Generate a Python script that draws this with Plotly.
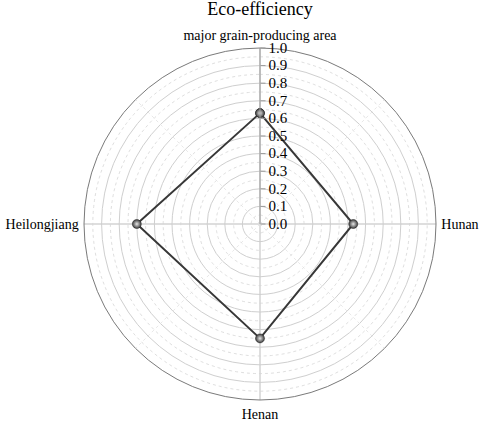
import numpy as np
import plotly.graph_objects as go

categories = ["major grain-producing area", "Hunan", "Henan", "Heilongjiang"]
efficiency = [0.63, 0.53, 0.65, 0.70]
minor_rings = [0.05, 0.15, 0.25, 0.35, 0.45, 0.55, 0.65, 0.75, 0.85, 0.95]
diagonal_spokes = [45, 135, 225, 315]
tick_vals = [0.0, 0.1, 0.2, 0.3, 0.4, 0.5, 0.6, 0.7, 0.8, 0.9, 1.0]

W, H = 484, 422

fig = go.Figure()

# dotted half-step rings
circle_theta = np.linspace(0, 360, 361)
for r in minor_rings:
    fig.add_trace(go.Scatterpolar(
        r=[r] * len(circle_theta), theta=circle_theta, thetaunit="degrees",
        mode="lines", line=dict(color="#d6d6d6", width=0.8, dash="dot"),
        hoverinfo="skip", showlegend=False))

# faint dotted diagonal spokes
for a in diagonal_spokes:
    fig.add_trace(go.Scatterpolar(
        r=[0, 1], theta=[a, a], mode="lines",
        line=dict(color="#e2e2e2", width=0.8, dash="dot"),
        hoverinfo="skip", showlegend=False))

theta_deg = [0, 90, 180, 270]
fig.add_trace(go.Scatterpolar(
    r=efficiency + efficiency[:1],
    theta=theta_deg + theta_deg[:1],
    mode="lines+markers",
    line=dict(color="#383838", width=2),
    marker=dict(size=9, color="#3a3a3a",
                gradient=dict(type="radial", color="#e8e8e8"),
                line=dict(color="#222222", width=0.5)),
    showlegend=False))

fig.update_layout(
    width=W, height=H,
    paper_bgcolor="white",
    margin=dict(l=0, r=0, t=0, b=0, autoexpand=False),
    font=dict(family="Liberation Serif", size=14, color="black"),
    title=dict(text="Eco-efficiency", x=260 / W, xanchor="center",
               y=1 - 9 / H, yanchor="middle", font=dict(size=18)),
    polar=dict(
        domain=dict(x=[84 / W, 436 / W], y=[1 - 400 / H, 1 - 48 / H]),
        bgcolor="white",
        angularaxis=dict(
            direction="clockwise", rotation=90,
            tickmode="array", tickvals=theta_deg, ticktext=categories,
            thetaunit="degrees",
            showline=True, linecolor="#7a7a7a", linewidth=1,
            showgrid=True, gridcolor="#bdbdbd", gridwidth=1,
            # invisible ticks just to push the labels off the rim a bit
            ticks="outside", ticklen=2, tickcolor="rgba(0,0,0,0)",
            tickfont=dict(size=14)),
        radialaxis=dict(
            range=[0, 1], angle=90, tickangle=90,
            tickvals=tick_vals, ticktext=[f"{v:.1f}" for v in tick_vals],
            showline=True, linecolor="#9a9a9a", linewidth=1,
            gridcolor="#cfcfcf", gridwidth=1,
            ticks="outside", ticklen=5, tickcolor="#9a9a9a",
            side="clockwise",
            tickfont=dict(size=15)),
    ),
)

# drop the default 8px page margin so the figure sits at the window corner
fig.write_html("out.html", config={"displayModeBar": False},
               post_script="document.body.style.margin='0';")
